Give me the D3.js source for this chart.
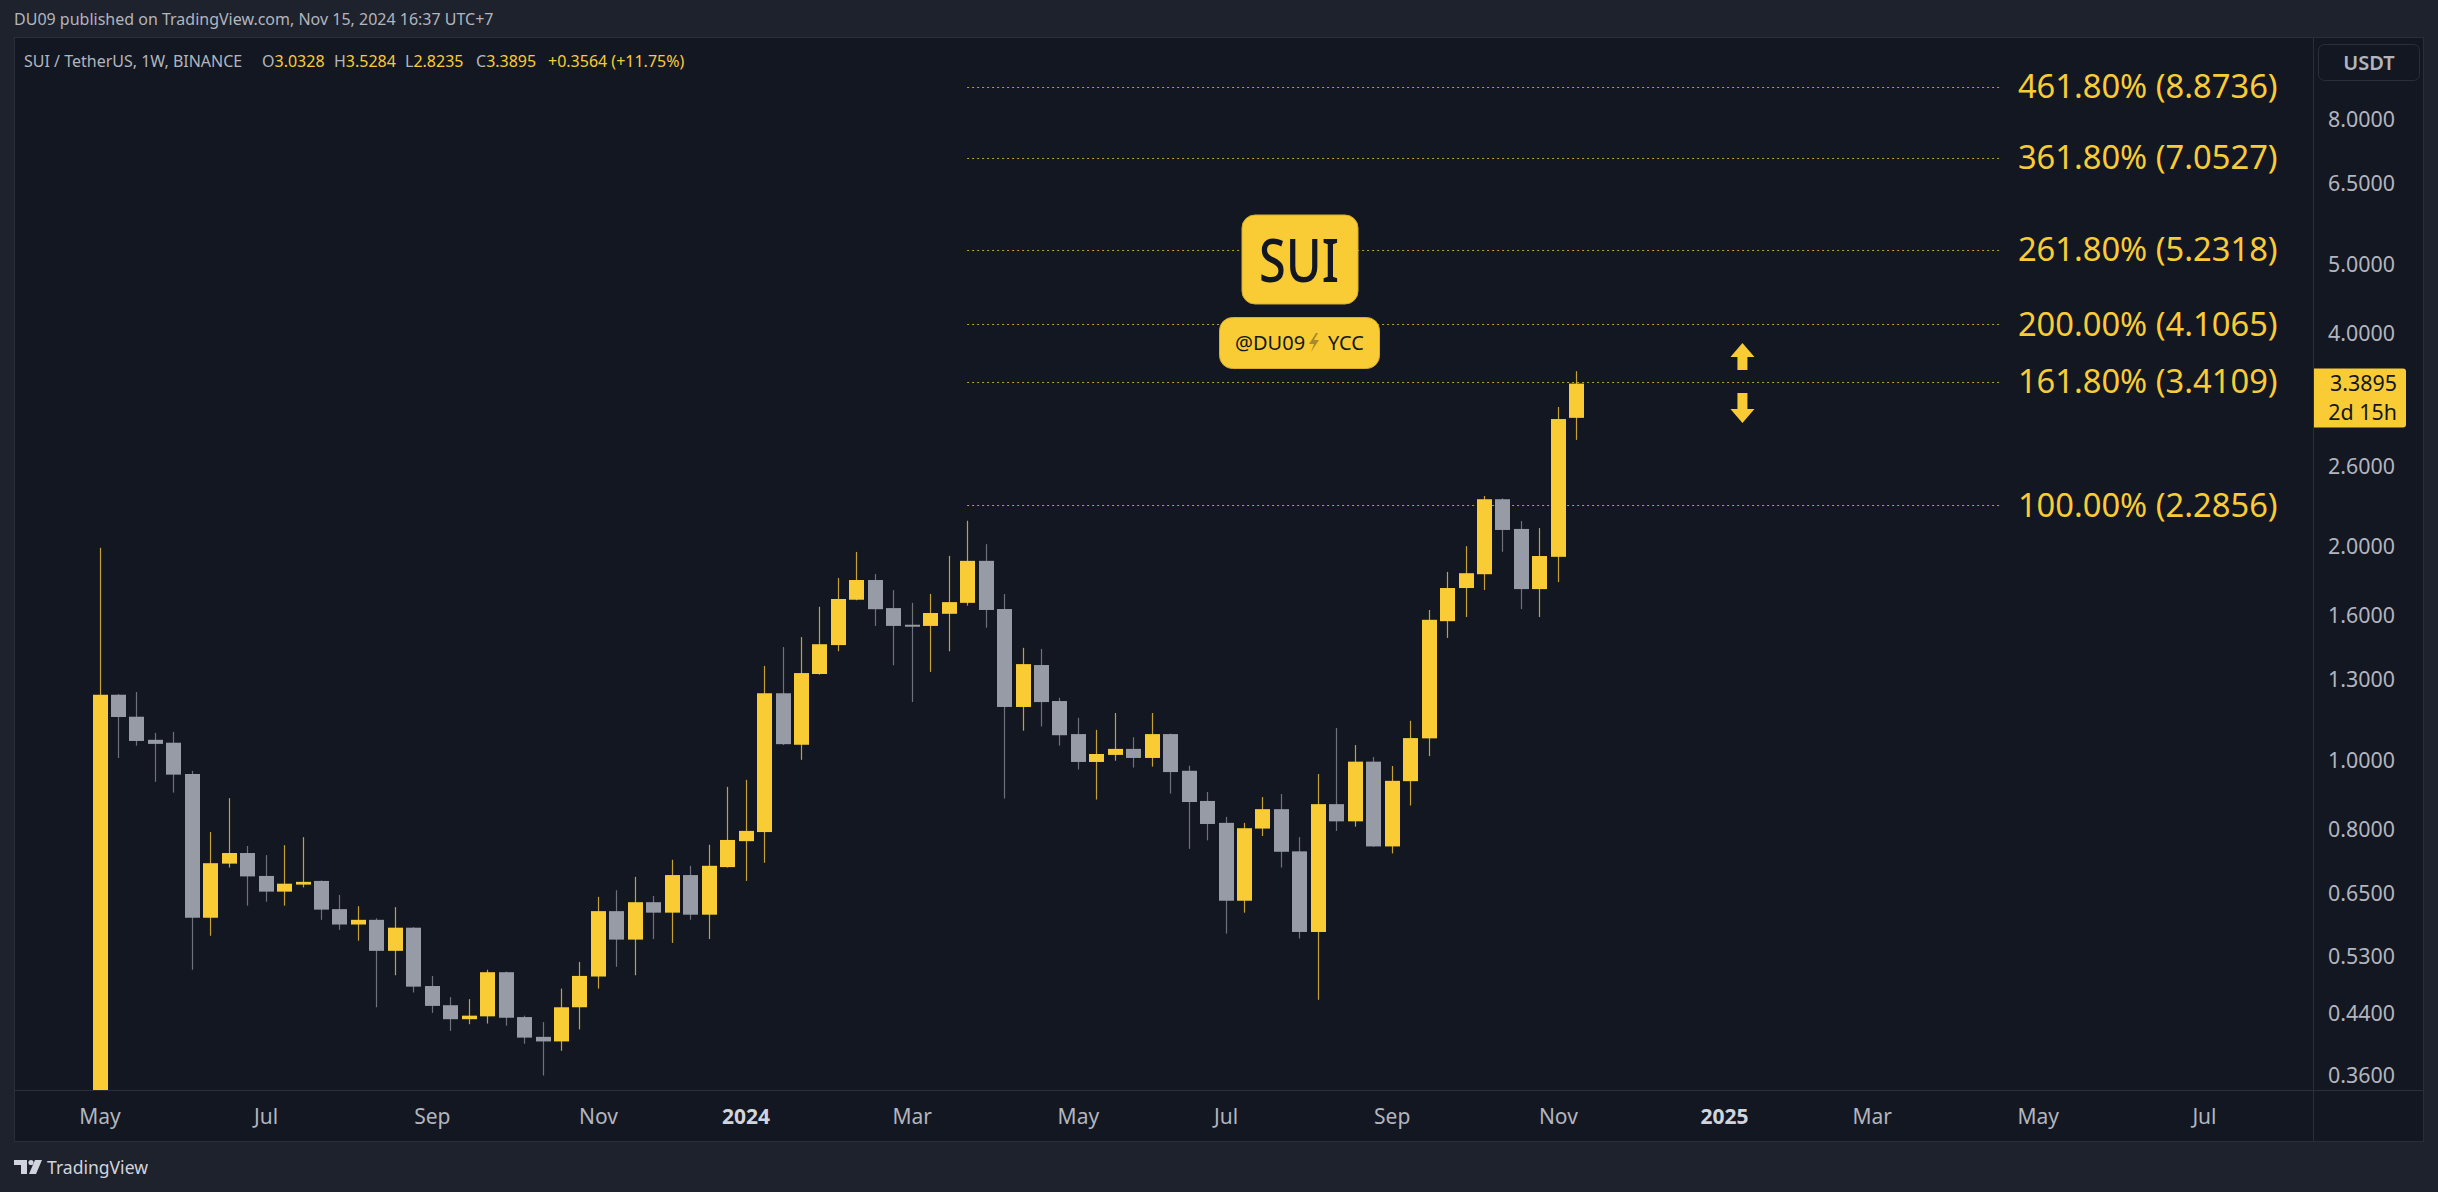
<!DOCTYPE html>
<html><head><meta charset="utf-8">
<script src="https://cdn.jsdelivr.net/npm/d3@7"></script>
<style>
html,body{margin:0;padding:0;background:#1e222d;overflow:hidden;}
svg{display:block;}
text{font-family:"Noto Sans",sans-serif;}
</style></head><body>
<svg id="c" width="2438" height="1192"></svg>
<script>
// ---------- data ----------
const firstWeek = "2023-05-01"; // weekly candles, Monday open
const opens  = [0.10,1.235,1.150,1.067,1.057,0.955,0.599,0.714,0.739,0.686,0.652,0.667,0.675,0.616,0.586,0.595,0.538,0.580,0.480,0.451,0.431,0.435,0.502,0.434,0.407,0.401,0.448,0.495,0.612,0.558,0.630,0.609,0.688,0.605,0.706,0.768,0.791,1.241,1.050,1.321,1.451,1.681,1.792,1.636,1.550,1.544,1.606,1.664,1.907,1.631,1.187,1.360,1.210,1.087,0.993,1.016,1.036,1.006,1.087,0.965,0.875,0.815,0.633,0.800,0.852,0.743,0.572,0.866,0.819,0.994,0.755,0.933,1.072,1.568,1.746,1.826,2.329,2.115,1.740,1.932,3.0328];
const highs  = [1.99,1.238,1.246,1.091,1.095,0.965,0.791,0.883,0.756,0.734,0.758,0.778,0.676,0.645,0.622,0.598,0.620,0.581,0.496,0.463,0.460,0.506,0.503,0.436,0.427,0.476,0.519,0.641,0.655,0.684,0.643,0.723,0.709,0.759,0.916,0.937,1.356,1.442,1.489,1.643,1.804,1.963,1.827,1.734,1.664,1.713,1.938,2.172,2.013,1.712,1.438,1.433,1.223,1.146,1.102,1.164,1.076,1.164,1.089,0.981,0.901,0.831,0.815,0.886,0.895,0.778,0.955,1.109,1.049,1.009,0.980,1.135,1.626,1.840,2.000,2.354,2.336,2.170,2.121,3.142,3.5284];
const lows   = [0.10,1.006,1.047,0.931,0.899,0.506,0.565,0.705,0.623,0.631,0.623,0.661,0.595,0.576,0.556,0.448,0.497,0.470,0.440,0.415,0.424,0.425,0.422,0.398,0.359,0.389,0.417,0.476,0.511,0.497,0.559,0.552,0.595,0.559,0.705,0.675,0.716,1.049,1.000,1.318,1.422,1.678,1.544,1.359,1.206,1.330,1.422,1.649,1.535,0.882,1.099,1.114,1.047,0.969,0.879,0.997,0.975,0.978,0.896,0.749,0.770,0.569,0.609,0.781,0.705,0.560,0.459,0.794,0.805,0.754,0.738,0.862,1.012,1.485,1.589,1.735,1.964,1.631,1.589,1.780,2.8235];
const closes = [1.235,1.149,1.063,1.053,0.953,0.599,0.715,0.739,0.685,0.652,0.669,0.673,0.615,0.586,0.595,0.538,0.580,0.479,0.450,0.431,0.436,0.502,0.433,0.406,0.401,0.448,0.496,0.612,0.558,0.630,0.609,0.688,0.605,0.709,0.771,0.794,1.241,1.052,1.325,1.455,1.685,1.792,1.630,1.544,1.546,1.610,1.668,1.907,1.626,1.187,1.364,1.206,1.083,0.993,1.019,1.036,1.006,1.087,0.961,0.872,0.812,0.633,0.801,0.852,0.742,0.572,0.866,0.819,0.994,0.755,0.934,1.073,1.575,1.746,1.832,2.329,2.108,1.740,1.937,3.021,3.3895];

const priceTicks = [8, 6.5, 5, 4, 2.6, 2, 1.6, 1.3, 1, 0.8, 0.65, 0.53, 0.44, 0.36];
const timeTickDates  = ["2023-05-01","2023-07-03","2023-09-04","2023-11-06","2024-01-01","2024-03-04","2024-05-06","2024-07-01","2024-09-02","2024-11-04","2025-01-06","2025-03-03","2025-05-05","2025-07-07"];
const timeTickLabels = ["May","Jul","Sep","Nov","2024","Mar","May","Jul","Sep","Nov","2025","Mar","May","Jul"];
const fibLabels = ["461.80%","361.80%","261.80%","200.00%","161.80%","100.00%"];
const fibPrices = [8.8736, 7.0527, 5.2318, 4.1065, 3.4109, 2.2856];
const fibStartDate = "2024-03-25";
const fibEndDate = "2025-04-21";
const lastPrice = 3.3895;
const countdown = "2d 15h";

// ---------- colors ----------
const C = {
  outer:"#1e222d", pane:"#131722", border:"#2a2e39", axisText:"#b2b5be", strong:"#d1d4dc",
  up:"#f9cc35", upWick:"#c4a132", down:"#979ba5", downWick:"#6d717b", dark:"#131722"
};

const parse = d3.utcParse("%Y-%m-%d");
const w0 = parse(firstWeek);
const weeks = d3.utcMonday.range(w0, d3.utcMonday.offset(w0, closes.length));

// ---------- layout ----------
const PL = 15, PR = 2313, PT = 38, PB = 1090, AXR = 2423, AXB = 1141;

const x = d3.scaleUtc().domain([weeks[0], weeks[weeks.length-1]])
  .range([99.5, 99.5 + 18.46*(weeks.length-1)]);
const y = d3.scaleLog().domain([1, 8]).range([759.8, 118.9]);

const svg = d3.select("#c");
svg.append("rect").attr("width",2438).attr("height",1192).attr("fill",C.outer);
svg.append("rect").attr("x",14.5).attr("y",37.5).attr("width",AXR-14).attr("height",AXB-37)
  .attr("fill",C.pane).attr("stroke",C.border).attr("stroke-width",1);
svg.append("line").attr("x1",PL).attr("x2",AXR).attr("y1",PB+0.5).attr("y2",PB+0.5).attr("stroke",C.border);
svg.append("line").attr("x1",PR+0.5).attr("x2",PR+0.5).attr("y1",PT).attr("y2",AXB).attr("stroke",C.border);

svg.append("defs").append("clipPath").attr("id","plot").append("rect")
  .attr("x",PL).attr("y",PT).attr("width",PR-PL).attr("height",PB-PT);

// ---------- header ----------
svg.append("text").attr("x",14).attr("y",25).attr("font-size",16).attr("fill",C.axisText)
  .text("DU09 published on TradingView.com, Nov 15, 2024 16:37 UTC+7");
const hdr = svg.append("text").attr("y",67).attr("font-size",16).attr("fill",C.axisText);
hdr.append("tspan").attr("x",24).text("SUI / TetherUS, 1W, BINANCE");
const ohlc = [["O","3.0328",262],["H","3.5284",334],["L","2.8235",405],["C","3.3895",476]];
ohlc.forEach(([k,v,px])=>{
  hdr.append("tspan").attr("x",px).attr("fill",C.axisText).text(k);
  hdr.append("tspan").attr("fill",C.up).text(v);
});
hdr.append("tspan").attr("x",548).attr("fill",C.up).text("+0.3564 (+11.75%)");

// ---------- plot ----------
const g = svg.append("g").attr("clip-path","url(#plot)");

// fib lines
const fx1 = x(parse(fibStartDate)), fx2 = x(parse(fibEndDate));
g.selectAll("line.fib").data(fibPrices).join("line").attr("class","fib")
  .attr("x1",fx1).attr("x2",fx2)
  .attr("y1",d=>Math.round(y(d))+0.5).attr("y2",d=>Math.round(y(d))+0.5)
  .attr("stroke",C.up).attr("stroke-opacity",0.75).attr("stroke-width",1)
  .attr("stroke-dasharray","2,3");
g.selectAll("text.fib").data(fibPrices).join("text").attr("class","fib")
  .attr("x",fx2+17).attr("y",d=>y(d)+11.5)
  .attr("font-size",32.7).attr("fill",C.up)
  .text((d,i)=>`${fibLabels[i]} (${d.toFixed(4)})`);

// candles
const idx = d3.range(closes.length);
const cx = i => Math.round(x(weeks[i]));
const bull = i => closes[i] >= opens[i] && !(i===44);
g.selectAll("line.wick").data(idx).join("line").attr("class","wick")
  .attr("x1",i=>cx(i)+0.5).attr("x2",i=>cx(i)+0.5)
  .attr("y1",i=>y(highs[i])).attr("y2",i=>y(lows[i]))
  .attr("stroke",i=>bull(i)?C.upWick:C.downWick).attr("stroke-width",1.2);
g.selectAll("rect.body").data(idx).join("rect").attr("class","body")
  .attr("x",i=>cx(i)-7).attr("width",15)
  .attr("y",i=>y(Math.max(opens[i],closes[i])))
  .attr("height",i=>Math.max(2, y(Math.min(opens[i],closes[i])) - y(Math.max(opens[i],closes[i]))))
  .attr("fill",i=>bull(i)?C.up:C.down);

// ---------- annotations ----------
// SUI badge
const ann = svg.append("g");
ann.append("rect").attr("x",1242).attr("y",215).attr("width",116).attr("height",89).attr("rx",13)
  .attr("fill",C.up).attr("stroke","#d8ae2c").attr("stroke-width",1);
ann.append("text").attr("x",1299).attr("y",282).attr("text-anchor","middle")
  .attr("font-size",60).attr("font-weight",500).attr("fill",C.dark)
  .attr("textLength",80).attr("lengthAdjust","spacingAndGlyphs").text("SUI");
ann.append("rect").attr("x",1219.5).attr("y",317.5).attr("width",160).attr("height",51).attr("rx",13)
  .attr("fill",C.up).attr("stroke","#d8ae2c").attr("stroke-width",1);
ann.append("text").attr("x",1235).attr("y",349.5).attr("font-size",20).attr("fill",C.dark).text("@DU09");
ann.append("path").attr("d","M1316,333 L1309,344 L1314,344 L1311,352 L1319,340 L1314,340 L1318,333 Z")
  .attr("fill","#a88c2c");
ann.append("text").attr("x",1328).attr("y",349.5).attr("font-size",20).attr("fill",C.dark).text("YCC");

// arrows
const ax = x(parse("2025-01-13"));
ann.append("path").attr("d",`M${ax},343 L${ax+12},357 L${ax+5},357 L${ax+5},370 L${ax-5},370 L${ax-5},357 L${ax-12},357 Z`).attr("fill",C.up);
ann.append("path").attr("d",`M${ax},423 L${ax+12},409 L${ax+5},409 L${ax+5},393 L${ax-5},393 L${ax-5},409 L${ax-12},409 Z`).attr("fill",C.up);

// ---------- axes ----------
const yAxis = svg.append("g").attr("transform",`translate(${PR},0)`)
  .call(d3.axisRight(y).tickValues(priceTicks).tickFormat(d3.format(".4f")).tickSize(0).tickPadding(15));
yAxis.select(".domain").remove();
yAxis.selectAll("text").attr("font-size",21.4).attr("fill",C.axisText)
  .attr("font-family","Noto Sans, sans-serif").attr("dy","0.36em");

const xAxis = svg.append("g").attr("transform",`translate(0,${PB})`)
  .call(d3.axisBottom(x).tickValues(timeTickDates.map(parse)).tickFormat((d,i)=>timeTickLabels[i]).tickSize(0));
xAxis.select(".domain").remove();
xAxis.selectAll("text").attr("font-size",21).attr("font-family","Noto Sans, sans-serif")
  .attr("y",33.5).attr("dy",0)
  .attr("fill",(d,i)=>/^\d{4}$/.test(timeTickLabels[i])?C.strong:C.axisText)
  .attr("font-weight",(d,i)=>/^\d{4}$/.test(timeTickLabels[i])?700:400);

// USDT box
svg.append("rect").attr("x",2318.5).attr("y",44.5).attr("width",101).attr("height",36).attr("rx",6)
  .attr("fill",C.pane).attr("stroke",C.border);
svg.append("text").attr("x",2369).attr("y",69.5).attr("text-anchor","middle").attr("font-size",20)
  .attr("font-weight",600).attr("fill",C.axisText).text("USDT");

// last price label
const ly = y(lastPrice);
svg.append("path").attr("d",`M${PR+1},${ly-15} H2403 Q2406,${ly-15} 2406,${ly-12} V${ly+41} Q2406,${ly+44} 2403,${ly+44} H${PR+1} Z`)
  .attr("fill",C.up);
svg.append("text").attr("x",2397).attr("y",ly).attr("dy","0.36em").attr("text-anchor","end")
  .attr("font-size",21.4).attr("fill",C.dark).text(lastPrice.toFixed(4));
svg.append("text").attr("x",2397).attr("y",ly+29).attr("dy","0.36em").attr("text-anchor","end")
  .attr("font-size",21.4).attr("fill",C.dark).text(countdown);

// ---------- footer logo ----------
const lg = svg.append("g").attr("fill",C.strong);
lg.append("path").attr("d","M14,1160 H27 V1174 H21 V1165 H14 Z");
lg.append("circle").attr("cx",31).attr("cy",1162.5).attr("r",2.6);
lg.append("path").attr("d","M35,1160 H42 L36,1174 H29 Z");
svg.append("text").attr("x",47).attr("y",1174).attr("font-size",18).attr("fill",C.strong)
  .attr("textLength",101).attr("lengthAdjust","spacingAndGlyphs").text("TradingView");
</script>
</body></html>
